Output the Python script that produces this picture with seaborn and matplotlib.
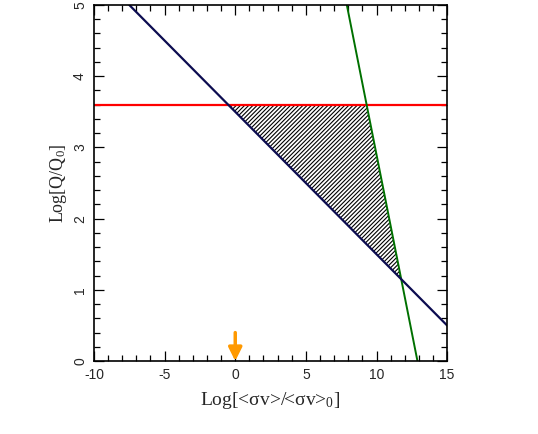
import matplotlib
matplotlib.use("Agg")
import matplotlib.pyplot as plt
import numpy as np
import pandas as pd
import seaborn as sns
from matplotlib.ticker import MultipleLocator

# line end points
navy_x = [-7.5, 15.0]
navy_y = [5.0, 0.5]
green_x = [7.9, 12.9]
green_y = [5.0, 0.0]
red_x = [-10.0, 15.0]
red_y = [3.6, 3.6]

# allowed region (hatched)
region_x = [-0.5, 9.3, 11.75]
region_lo = [3.6, 1.64, 1.15]
region_hi = [3.6, 3.6, 1.15]

arrow_x = 0.0
arrow_top = 0.4

sns.set_style("ticks")
plt.rcParams['font.family'] = ['Liberation Sans', 'DejaVu Sans']
plt.rcParams['axes.unicode_minus'] = False
plt.rcParams['mathtext.fontset'] = 'custom'
plt.rcParams['mathtext.rm'] = 'Liberation Serif'
plt.rcParams['mathtext.it'] = 'Liberation Serif'
plt.rcParams['hatch.linewidth'] = 0.8
plt.rcParams['hatch.color'] = 'black'

fig = plt.figure(figsize=(5.38, 4.34), dpi=100)
ax = fig.add_axes([0.1747, 0.168, 0.6564, 0.8205])

ax.fill_between(region_x, region_lo, region_hi, facecolor='none',
                edgecolor='black', hatch='////////', linewidth=0)

df_navy = pd.DataFrame({'x': navy_x, 'y': navy_y})
df_green = pd.DataFrame({'x': green_x, 'y': green_y})
df_red = pd.DataFrame({'x': red_x, 'y': red_y})
sns.lineplot(data=df_red, x='x', y='y', color='#ff0000', lw=1.6, ax=ax)
sns.lineplot(data=df_green, x='x', y='y', color='#007000', lw=1.4, ax=ax)
sns.lineplot(data=df_navy, x='x', y='y', color='#0c0c50', lw=1.6, ax=ax)

ax.annotate('', xy=(arrow_x, 0.0), xytext=(arrow_x, arrow_top),
            arrowprops=dict(arrowstyle='-|>,head_width=0.4,head_length=0.8',
                            color='#ff9900', lw=2.5, shrinkA=0, shrinkB=0))

ax.set_xlim(-10, 15)
ax.set_ylim(0, 5)
ax.xaxis.set_major_locator(MultipleLocator(5))
ax.xaxis.set_minor_locator(MultipleLocator(1))
ax.yaxis.set_major_locator(MultipleLocator(1))
ax.yaxis.set_minor_locator(MultipleLocator(0.2))
ax.tick_params(which='both', direction='in', top=True, right=True, color='black')
ax.tick_params(which='major', length=7, width=0.9, labelsize=10, pad=5)
ax.tick_params(which='minor', length=4, width=0.9)
for lab in ax.get_yticklabels():
    lab.set_rotation(90)
    lab.set_va('center')
for s in ax.spines.values():
    s.set_linewidth(1.2)
    s.set_color('black')

ax.set_xlabel('Log[<σv>/<σv>$_0$]', family='Liberation Serif', fontsize=14, labelpad=6)
ax.set_ylabel('Log[Q/Q$_0$]', family='Liberation Serif', fontsize=13, labelpad=3)

fig.savefig('out.png', dpi=100)
